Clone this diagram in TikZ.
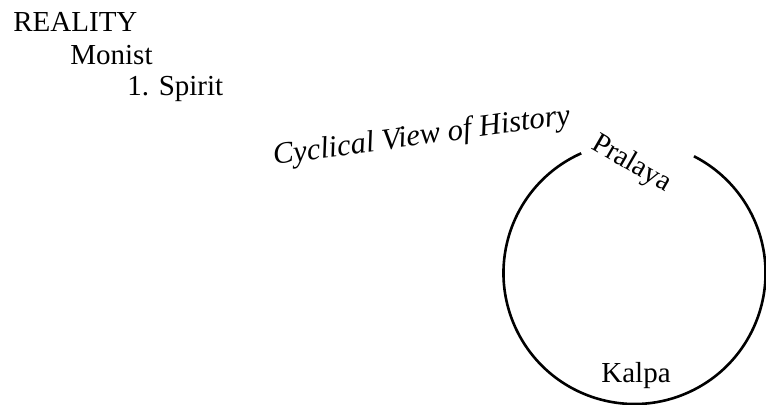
\documentclass[tikz,border=0pt]{standalone}
\usepackage{fontspec}
\setmainfont{Liberation Serif}
\begin{document}
\begin{tikzpicture}[x=0.5pt, y=-0.5pt, every node/.style={inner sep=0pt, font=\fontsize{14.5}{17}\selectfont}]
\useasboundingbox (0,0) rectangle (766,405);

% Jerarquía de la realidad
\node[anchor=base west] (realidad) at (13,32) {REALITY};
\node[anchor=base west] (monista) at (70,65) {Monist};
\node[anchor=base west] (espiritu) at (127,96) {1. Spirit};

% Título inclinado
\node[anchor=base west, rotate=7.8, font=\fontsize{15.3}{18}\selectfont\itshape] (titulo) at (274,165) {Cyclical View of History};

% Ciclo (abierto arriba)
\coordinate (centro) at (634.5,273);
\draw[line width=1.3pt] (centro) ++(-114:131) arc[start angle=-114, end angle=-423, radius=131];

% Etiquetas del ciclo
\node[anchor=base, rotate=-30] (pralaya) at (628,170) {Pralaya};
\node[anchor=base] (kalpa) at (636,383) {Kalpa};

\end{tikzpicture}
\end{document}
